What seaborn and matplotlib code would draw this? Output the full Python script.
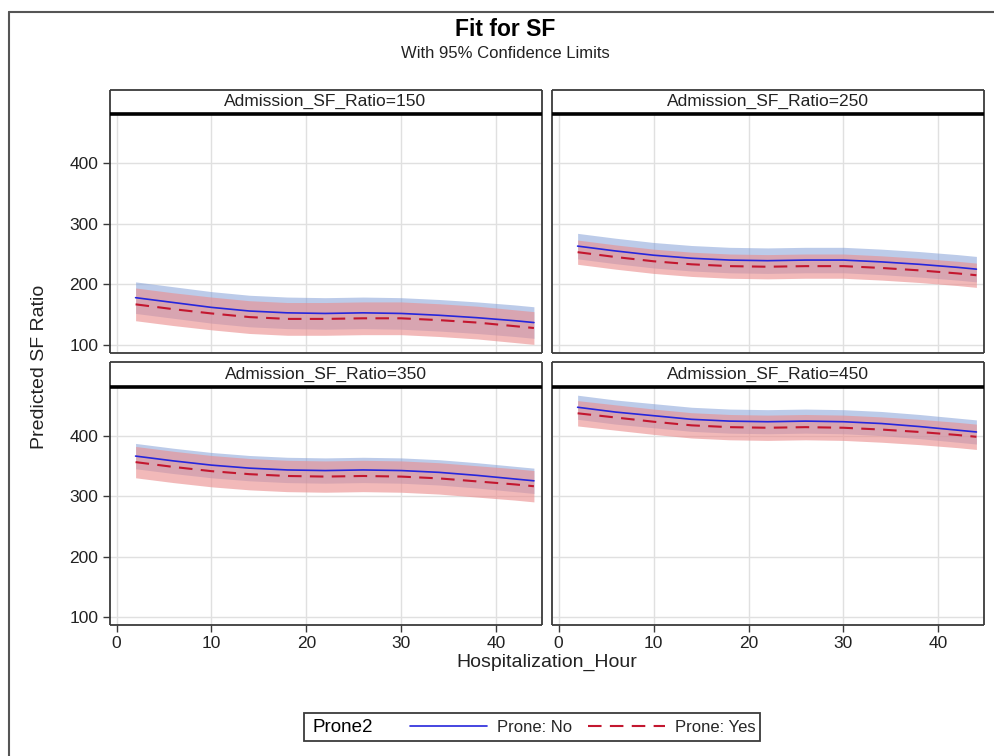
import numpy as np
import pandas as pd
import matplotlib
matplotlib.use("Agg")
import matplotlib.pyplot as plt
from matplotlib.lines import Line2D
from matplotlib.patches import Rectangle
import seaborn as sns

# values
hours = [2, 6, 10, 14, 18, 22, 26, 30, 34, 38, 42, 44]
sf_levels = [150, 250, 350, 450]

fit_no = {
    150: [178, 170, 162, 156, 153, 152, 153, 152, 149, 145, 140, 137],
    250: [263, 255, 248, 243, 240, 239, 240, 240, 237, 233, 228, 225],
    350: [367, 359, 352, 347, 344, 343, 344, 343, 340, 335, 329, 326],
    450: [448, 440, 434, 428, 425, 424, 425, 424, 421, 416, 410, 407],
}
fit_yes = {
    150: [167, 159, 152, 146, 143, 143, 144, 144, 141, 137, 131, 128],
    250: [253, 245, 238, 233, 230, 229, 230, 230, 227, 223, 218, 215],
    350: [357, 349, 342, 337, 334, 333, 334, 333, 330, 325, 320, 317],
    450: [438, 431, 424, 418, 415, 414, 415, 414, 411, 407, 402, 399],
}
# half width of the 95% limits per panel
hw_no = {150: 26, 250: 21, 350: 21, 450: 20}
hw_yes = {150: 27, 250: 20, 350: 26, 450: 21}

groups = ["Prone: No", "Prone: Yes"]
line_colors = {"Prone: No": "#2626DC", "Prone: Yes": "#C3172F"}
band_colors = {"Prone: No": "#7F9CD6", "Prone: Yes": "#EA8F8F"}
band_alpha = {"Prone: No": 0.52, "Prone: Yes": 0.62}

rows = []
for lvl in sf_levels:
    for g, fits, hws in [("Prone: No", fit_no, hw_no), ("Prone: Yes", fit_yes, hw_yes)]:
        for h, f in zip(hours, fits[lvl]):
            rows.append({"hour": h, "sf": lvl, "prone": g, "fit": f,
                         "lower": f - hws[lvl], "upper": f + hws[lvl]})
df = pd.DataFrame(rows)

sns.set_theme(style="white")
plt.rcParams["font.family"] = ["Liberation Sans", "DejaVu Sans"]

W, H = 994, 756
fig = plt.figure(figsize=(W / 100, H / 100), dpi=100)


def fbox(x0, y0, x1, y1):
    # pixel box (top-left origin) -> figure rect
    return [x0 / W, 1 - y1 / H, (x1 - x0) / W, (y1 - y0) / H]


cols = [(109.5, 541.5), (551.5, 984)]
rows_px = [((90, 113.5), (113.5, 353)), ((362.5, 387), (387, 625))]
edge = "#3a3a3a"

for i, lvl in enumerate(sf_levels):
    r, c = divmod(i, 2)
    (sy0, sy1), (py0, py1) = rows_px[r]
    x0, x1 = cols[c]
    ax = fig.add_axes(fbox(x0, py0, x1, py1))
    sub = df[df["sf"] == lvl]

    for g in groups:
        s = sub[sub["prone"] == g]
        ax.fill_between(s["hour"], s["lower"], s["upper"], color=band_colors[g],
                        alpha=band_alpha[g], lw=0, zorder=2)
    for g in groups:
        s = sub[sub["prone"] == g]
        if g == "Prone: No":
            sns.lineplot(data=s, x="hour", y="fit", color=line_colors[g], lw=1.2,
                         ax=ax, zorder=4)
        else:
            sns.lineplot(data=s, x="hour", y="fit", color=line_colors[g], lw=1.5,
                         ax=ax, zorder=3).lines[-1].set_dashes((6.5, 4))

    ax.set_xlim(-0.75, 44.8)
    ax.set_ylim(86.8, 481.6)
    ax.set_xticks([0, 10, 20, 30, 40])
    ax.set_yticks([100, 200, 300, 400])
    ax.grid(True, color="#e0e0e0", lw=1.0, zorder=0)
    ax.set_axisbelow(True)
    ax.set_xlabel("")
    ax.set_ylabel("")
    for sp in ax.spines.values():
        sp.set_color(edge)
        sp.set_linewidth(1.3)
        sp.set_capstyle("butt")
    ax.tick_params(axis="both", which="both", length=5, width=1, color=edge,
                   labelsize=12.5, labelcolor="#222222", pad=3)
    ax.tick_params(left=(c == 0), labelleft=(c == 0),
                   bottom=(r == 1), labelbottom=(r == 1))

    # strip header
    sax = fig.add_axes(fbox(x0, sy0, x1, sy1))
    sax.set_xticks([])
    sax.set_yticks([])
    sax.set_facecolor("white")
    for sp in sax.spines.values():
        sp.set_color(edge)
        sp.set_linewidth(1.3)
        sp.set_capstyle("butt")
    sax.spines["bottom"].set_color("black")
    sax.spines["bottom"].set_linewidth(2.6)
    sax.text(0.5, 0.5, f"Admission_SF_Ratio={lvl}", ha="center", va="center",
             fontsize=12.5, color="#222222", transform=sax.transAxes)

# titles and axis labels
fig.text(505 / W, 1 - 30 / H, "Fit for SF", ha="center", va="center",
         fontsize=16.5, fontweight="bold", color="black")
fig.text(505 / W, 1 - 53 / H, "With 95% Confidence Limits", ha="center",
         va="center", fontsize=12, color="#222222")
fig.text(40 / W, 1 - 367 / H, "Predicted SF Ratio", ha="center", va="center",
         rotation=90, fontsize=14, color="#222222")
fig.text(547 / W, 1 - 662 / H, "Hospitalization_Hour", ha="center", va="center",
         fontsize=14, color="#222222")

# legend box
fig.add_artist(Rectangle((304 / W, 1 - 741 / H), (760 - 304) / W, 28 / H,
                         transform=fig.transFigure, fill=False, ec=edge, lw=1.3))
fig.text(313 / W, 1 - 727 / H, "Prone2", ha="left", va="center",
         fontsize=13.5, color="black")
handles = [Line2D([], [], color=line_colors["Prone: No"], lw=1.2),
           Line2D([], [], color=line_colors["Prone: Yes"], lw=1.5, dashes=(6.5, 4))]
fig.legend(handles, groups, loc="center left",
           bbox_to_anchor=(410 / W, 1 - 727 / H), ncol=2, frameon=False,
           fontsize=12, handlelength=4.6, handletextpad=0.6, columnspacing=1.0,
           borderpad=0, borderaxespad=0)

# outer frame
fig.add_artist(Line2D([9 / W, 9 / W], [0, 1 - 12 / H], transform=fig.transFigure,
                      color="#555555", lw=1.5))
fig.add_artist(Line2D([9 / W, 1], [1 - 12 / H, 1 - 12 / H],
                      transform=fig.transFigure, color="#555555", lw=1.5))

fig.savefig("out.png", dpi=100, facecolor="white")
